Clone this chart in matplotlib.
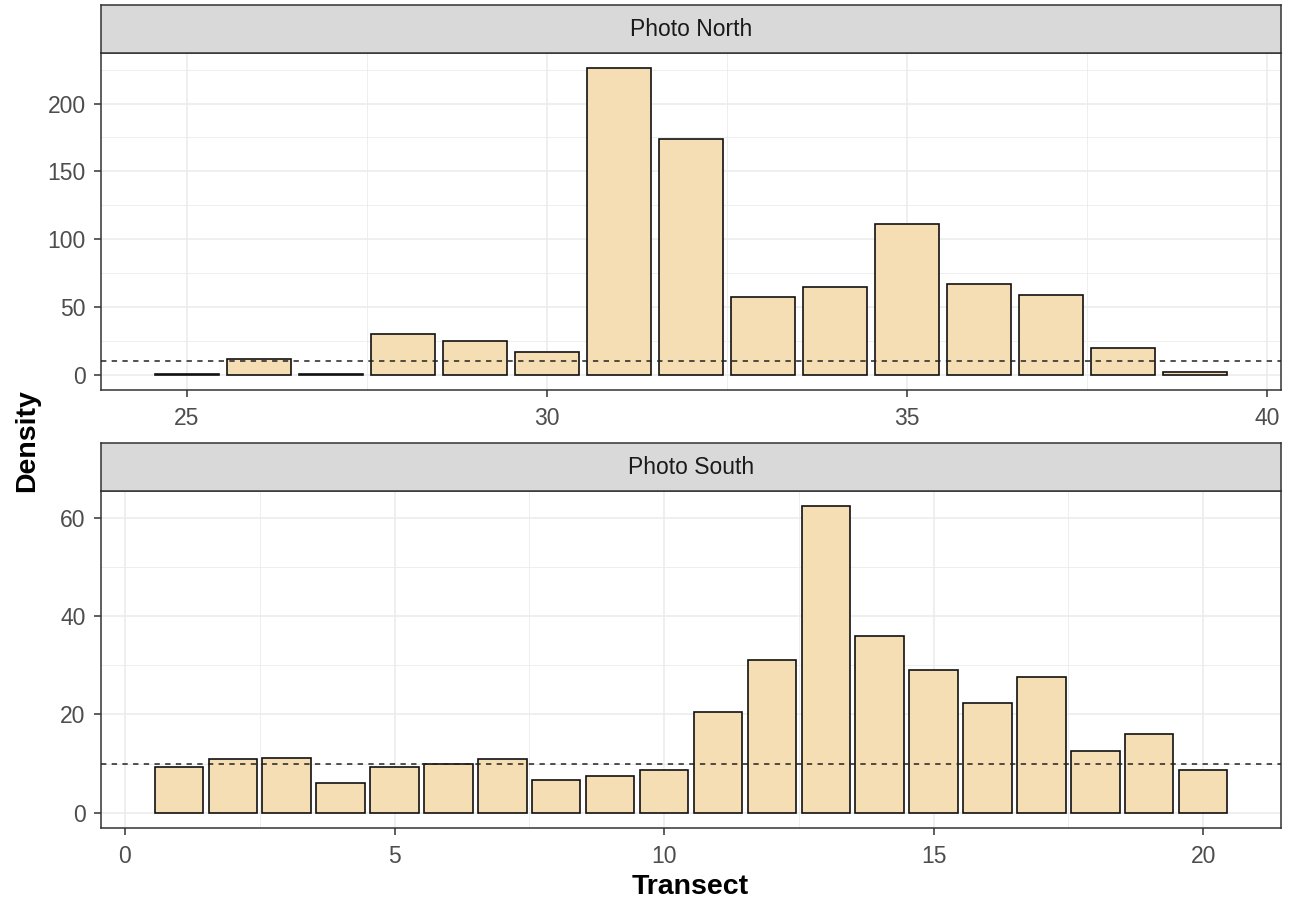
import numpy as np
import matplotlib.pyplot as plt

plt.rcParams['font.family'] = ['Liberation Sans', 'DejaVu Sans']

# transect densities
north_transect = list(range(25, 40))
north_density = [0.4, 11.5, 0.4, 30, 25, 16.7, 226, 173.5, 57.5, 64.5, 111, 67, 58.5, 20, 2]

south_transect = list(range(1, 21))
south_density = [9.2, 10.9, 11.2, 6.0, 9.2, 10.0, 10.9, 6.6, 7.5, 8.6,
                 20.5, 31.0, 62.3, 35.9, 29.1, 22.4, 27.5, 12.6, 15.9, 8.6]

ref_density = 10

north_xticks = [25, 30, 35, 40]
north_yticks = [0, 50, 100, 150, 200]
south_xticks = [0, 5, 10, 15, 20]
south_yticks = [0, 20, 40, 60]

FILL = '#F5DEB3'
BORDER = '#333333'
GRID = '#EBEBEB'
TICKTXT = '#4D4D4D'

W, H = 1293, 905
fig = plt.figure(figsize=(W / 100, H / 100), dpi=100)


def px_box(x0, y0, x1, y1):
    # pixel box (top-left origin) -> figure fraction rect
    return [x0 / W, 1 - y1 / H, (x1 - x0) / W, (y1 - y0) / H]


def draw_facet(panel_box, strip_box, title, x, y, xticks, yticks):
    ax = fig.add_axes(px_box(*panel_box))
    sax = fig.add_axes(px_box(*strip_box))

    width = 0.9
    lo, hi = min(x) - width / 2, max(x) + width / 2
    pad = (hi - lo) * 0.05
    ax.set_xlim(lo - pad, hi + pad)
    ymax = max(y)
    ax.set_ylim(-ymax * 0.05, ymax * 1.05)

    xstep = xticks[1] - xticks[0]
    ystep = yticks[1] - yticks[0]
    xminor = np.arange(xticks[0] - xstep / 2, xticks[-1] + xstep, xstep)
    yminor = np.arange(yticks[0] - ystep / 2, yticks[-1] + ystep, ystep)
    for v in xminor:
        ax.axvline(v, color=GRID, lw=0.6, zorder=0)
    for v in yminor:
        ax.axhline(v, color=GRID, lw=0.6, zorder=0)
    for v in xticks:
        ax.axvline(v, color=GRID, lw=1.1, zorder=0)
    for v in yticks:
        ax.axhline(v, color=GRID, lw=1.1, zorder=0)

    ax.bar(x, y, width=width, color=FILL, edgecolor='#111111', linewidth=1.2, zorder=2)
    ax.axhline(ref_density, color='#222222', lw=1.1, ls=(0, (3.5, 3.5)), zorder=3)

    ax.set_xticks(xticks)
    ax.set_yticks(yticks)
    ax.tick_params(axis='both', length=5, width=1.1, color=BORDER,
                   labelsize=16.5, labelcolor=TICKTXT)
    ax.tick_params(axis='x', pad=7)
    ax.tick_params(axis='y', pad=6)
    for s in ax.spines.values():
        s.set_color(BORDER)
        s.set_linewidth(1.1)

    sax.set_facecolor('#D9D9D9')
    sax.set_xticks([])
    sax.set_yticks([])
    for s in sax.spines.values():
        s.set_color(BORDER)
        s.set_linewidth(1.1)
    sax.text(0.5, 0.5, title, ha='center', va='center', fontsize=16.5,
             color='#1A1A1A', transform=sax.transAxes)
    return ax


draw_facet((101, 53, 1281, 390), (101, 5, 1281, 53), 'Photo North',
           north_transect, north_density, north_xticks, north_yticks)
draw_facet((101, 491, 1281, 828), (101, 443, 1281, 491), 'Photo South',
           south_transect, south_density, south_xticks, south_yticks)

fig.text(27 / W, 1 - 441 / H, 'Density', rotation=90, ha='center', va='center',
         fontsize=20.5, fontweight='bold', color='black')
fig.text(690 / W, 1 - 887 / H, 'Transect', ha='center', va='center',
         fontsize=20.5, fontweight='bold', color='black')

fig.savefig('out.png', dpi=100)
